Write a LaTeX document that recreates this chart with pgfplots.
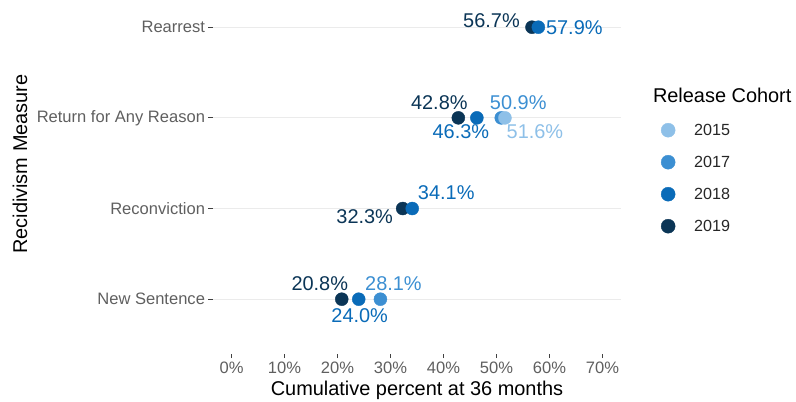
\documentclass[border=0pt]{standalone}
\usepackage{fontspec}
\setmainfont{Liberation Sans}
\usepackage{pgfplots}
\usepackage{pgfplotstable}
\pgfplotsset{compat=1.18}

\definecolor{c2015}{RGB}{142,192,232}
\definecolor{c2017}{RGB}{60,143,210}
\definecolor{c2018}{RGB}{10,107,184}
\definecolor{c2019}{RGB}{11,53,86}
\definecolor{gridgray}{RGB}{235,235,235}
\definecolor{ticktext}{RGB}{95,95,95}

% x = percent, y = measure (0 New Sentence .. 3 Rearrest), dx/dy = label offset in bp
\pgfplotstableread{
x    y dx    dy
20.8 0 -22   15.5
32.3 1 -38   -8.5
42.8 2 -19   15.5
56.7 3 -40.5 6.5
}\tabnineteen
\pgfplotstableread{
x    y dx  dy
24.0 0 1   -16
34.1 1 34  16
46.3 2 -16 -13.7
57.9 3 36  -0.5
}\tabeighteen
\pgfplotstableread{
x    y dx dy
28.1 0 13 15.5
50.9 2 17 15.5
}\tabseventeen
\pgfplotstableread{
x    y dx dy
51.6 2 30 -13.7
}\tabfifteen

\pgfplotsset{
  /pgf/number format/assume math mode=true,
  cohort/.style={
    only marks, mark=*, mark size=6.5bp, color=#1,
    point meta=x,
    nodes near coords={\pgfmathprintnumber[fixed,fixed zerofill,precision=1]{\pgfplotspointmeta}\%},
    visualization depends on={\thisrow{dx}\as\dx},
    visualization depends on={\thisrow{dy}\as\dy},
    every node near coord/.append style={anchor=center, xshift=\dx bp, yshift=\dy bp,
      font=\fontsize{20}{24}\selectfont, text=#1},
  },
}

\begin{document}
\begin{tikzpicture}
\useasboundingbox (0,0) rectangle (796bp,402bp);
\begin{axis}[
  at={(213bp,48.4bp)}, anchor=south west,
  scale only axis, width=408bp, height=353.6bp,
  xmin=-3.5, xmax=73.5, ymin=-0.6, ymax=3.3,
  clip=false,
  axis line style={draw=none},
  xtick={0,10,...,70},
  xticklabel={\pgfmathprintnumber{\tick}\%},
  ytick={0,1,2,3},
  yticklabels={New Sentence,Reconviction,Return for Any Reason,Rearrest},
  xtick pos=lower, ytick pos=left,
  tick align=outside,
  major tick length=4.5bp,
  tick style={draw=black!75, line width=1bp},
  ymajorgrids, grid style={draw=gridgray, line width=1.1bp},
  tick label style={font=\fontsize{16.6}{19}\selectfont, text=ticktext},
  xlabel={Cumulative percent at 36 months},
  xlabel style={font=\fontsize{20}{24}\selectfont, at={(axis description cs:0.5,-0.103)}, anchor=center},
  ylabel={Recidivism Measure},
  ylabel style={font=\fontsize{20}{24}\selectfont, at={(axis description cs:-0.473,0.536)}, anchor=center, rotate=0},
  legend style={at={(axis description cs:1.098,0.6776)}, anchor=north west,
    draw=none, fill=none, inner sep=0pt, row sep=0pt, column sep=0pt,
    font=\fontsize{16.2}{19}\selectfont, nodes={inner sep=0pt, text=black!85}},
  legend cell align=left,
  reverse legend,
  legend image code/.code={
    \path[draw=none, fill=none] (-7bp,-16bp) rectangle (26bp,16bp);
    \draw[#1, mark size=7bp] plot coordinates {(0bp,0bp)};
  },
]
\addplot[cohort=c2019] table[x=x,y=y] {\tabnineteen};
\addlegendentry{2019}
\addplot[cohort=c2018] table[x=x,y=y] {\tabeighteen};
\addlegendentry{2018}
\addplot[cohort=c2017] table[x=x,y=y] {\tabseventeen};
\addlegendentry{2017}
\addplot[cohort=c2015] table[x=x,y=y] {\tabfifteen};
\addlegendentry{2015}
\node[anchor=west, inner sep=0pt, font=\fontsize{20}{24}\selectfont] at (axis description cs:1.078,0.7313) {Release Cohort};
\end{axis}
\end{tikzpicture}
\end{document}
